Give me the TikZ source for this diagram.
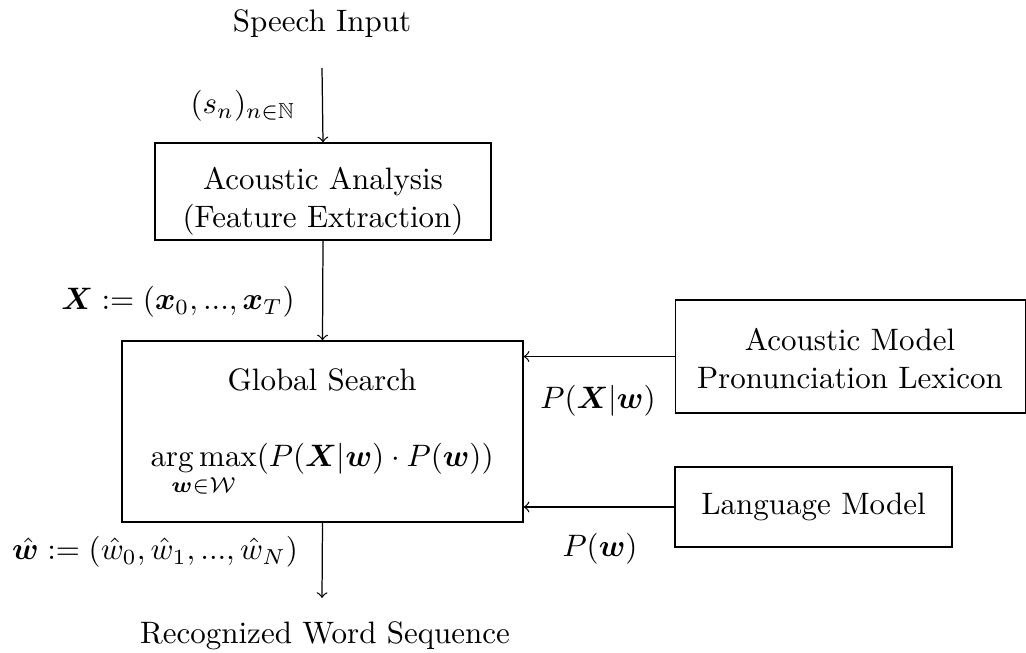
\documentclass[tikz,border=0pt]{standalone}
\usepackage{amsmath,amssymb,bm}
\begin{document}
\begin{tikzpicture}[x=0.3226pt,y=-0.3226pt,
  block/.style={draw,line width=0.4pt,inner sep=0pt,align=center},
  lbl/.style={inner sep=0pt,align=center},
  flow/.style={->,line width=0.4pt}]
\useasboundingbox (0,0) rectangle (1026,653);

% processing chain
\node[lbl] (speech) at (322,24) {Speech Input};
\coordinate (speechend) at (322,68);
\node[block,minimum width=108.4pt,minimum height=31.3pt] (analysis) at (323,191.5) {};
\node[lbl] (aatitle) at (323,182) {Acoustic Analysis};
\node[lbl] (aasub) at (323,220) {(Feature Extraction)};

\node[block,minimum width=129.4pt,minimum height=58.4pt] (search) at (322.5,431.5) {};
\node[lbl] (gstitle) at (322,380) {Global Search};
\node[lbl] (gsformula) at (322,470) {$\underset{\bm{w}\in\mathcal{W}}{\arg\max}(P(\bm{X}|\bm{w})\cdot P(\bm{w}))$};

\coordinate (outend) at (322,598);
\node[lbl] (result) at (325,636) {Recognized Word Sequence};

% knowledge sources
\node[block,minimum width=112.9pt,minimum height=36.5pt] (am) at (850.2,356.5) {};
\node[lbl] (amtitle) at (850,340) {Acoustic Model};
\node[lbl] (amsub) at (850,378) {Pronunciation Lexicon};

\node[block,minimum width=89.4pt,minimum height=25.8pt] (lm) at (813.5,507) {Language Model};

% connectors
\draw[flow] (speechend) -- (analysis.north);
\draw[flow] (analysis.south) -- (search.north);
\draw[flow] (search.south) -- (outend);
\draw[flow] (am.west) -- (am.west -| search.east);
\draw[flow] (lm.west) -- (lm.west -| search.east);

% signal labels
\node[lbl] (sn) at (243,106) {$(s_n)_{n\in\mathbb{N}}$};
\node[lbl] (xseq) at (178,302) {$\bm{X}:=(\bm{x}_0,...,\bm{x}_T)$};
\node[lbl] (wseq) at (155,552) {$\hat{\bm{w}}:=(\hat{w}_0,\hat{w}_1,...,\hat{w}_N)$};
\node[lbl] (pxw) at (598,401) {$P(\bm{X}|\bm{w})$};
\node[lbl] (pw) at (600,549) {$P(\bm{w})$};
\end{tikzpicture}
\end{document}
